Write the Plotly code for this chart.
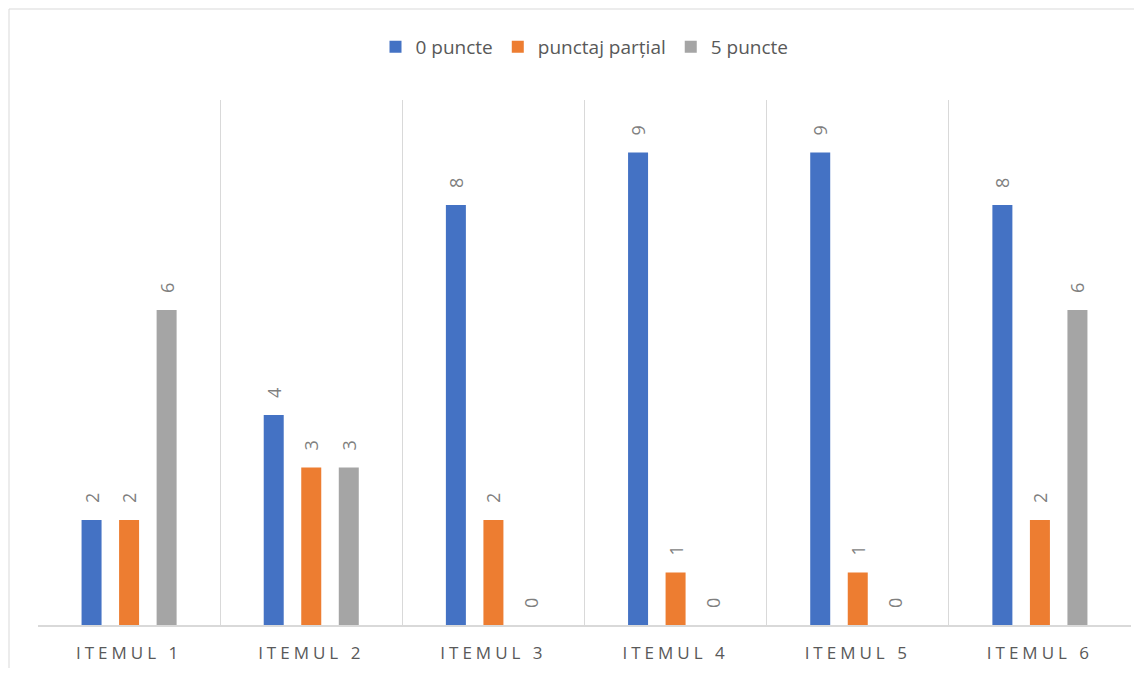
import plotly.graph_objects as go

categories = ["ITEMUL 1", "ITEMUL 2", "ITEMUL 3", "ITEMUL 4", "ITEMUL 5", "ITEMUL 6"]
series_names = ["0 puncte", "punctaj parțial", "5 puncte"]
zero_points = [2, 4, 8, 9, 9, 8]
partial_points = [2, 3, 2, 1, 1, 2]
five_points = [6, 3, 0, 0, 0, 6]
colors = ["#4472C4", "#ED7D31", "#A5A5A5"]

tick_text = ['<span style="letter-spacing:4px">%s</span>' % c for c in categories]

W, H = 1126, 660
L, R, T, B = 30, 3, 92, 43
plot_w = W - L - R
plot_h = H - T - B

fig = go.Figure()
for name, vals, col in zip(series_names, [zero_points, partial_points, five_points], colors):
    fig.add_trace(go.Bar(
        x=categories, y=vals, name=name, marker=dict(color=col, line=dict(width=0)),
        text=["\u00a0\u00a0\u00a0" + str(v) for v in vals], textposition="outside", textangle=-90,
        constraintext="none",
        textfont=dict(family="Open Sans", size=18, color="#7f7f7f"),
        cliponaxis=False,
    ))

fig.update_layout(
    width=W, height=H,
    margin=dict(l=L, r=R, t=T, b=B),
    paper_bgcolor="white", plot_bgcolor="white",
    barmode="group", bargap=0.382, bargroupgap=0.467,
    font=dict(family="Open Sans", color="#595959"),
    legend=dict(orientation="h", x=0.5, xanchor="center", y=(plot_h + T - 39) / plot_h, yanchor="middle",
                font=dict(size=19, color="#595959"), itemwidth=30, traceorder="normal"),
    showlegend=True,
)
fig.update_xaxes(
    type="category", tickson="boundaries", showgrid=True, gridcolor="#d9d9d9", gridwidth=1,
    ticks="", tickvals=categories, ticktext=tick_text, ticklabelstandoff=12,
    tickfont=dict(size=17, color="#595959"),
    showline=True, linecolor="#d9d9d9", linewidth=1.5, range=[-0.5, 5.5],
)
fig.update_yaxes(range=[0, 10], showgrid=False, showticklabels=False, zeroline=False,
                 showline=False, ticks="")

fig.add_shape(type="rect", xref="paper", yref="paper",
              x0=(1 - L) / plot_w, x1=1.2, y0=-0.3, y1=(plot_h + T - 1) / plot_h,
              line=dict(color="#d9d9d9", width=1), fillcolor="rgba(0,0,0,0)", layer="below")

fig.write_html("out.html")
